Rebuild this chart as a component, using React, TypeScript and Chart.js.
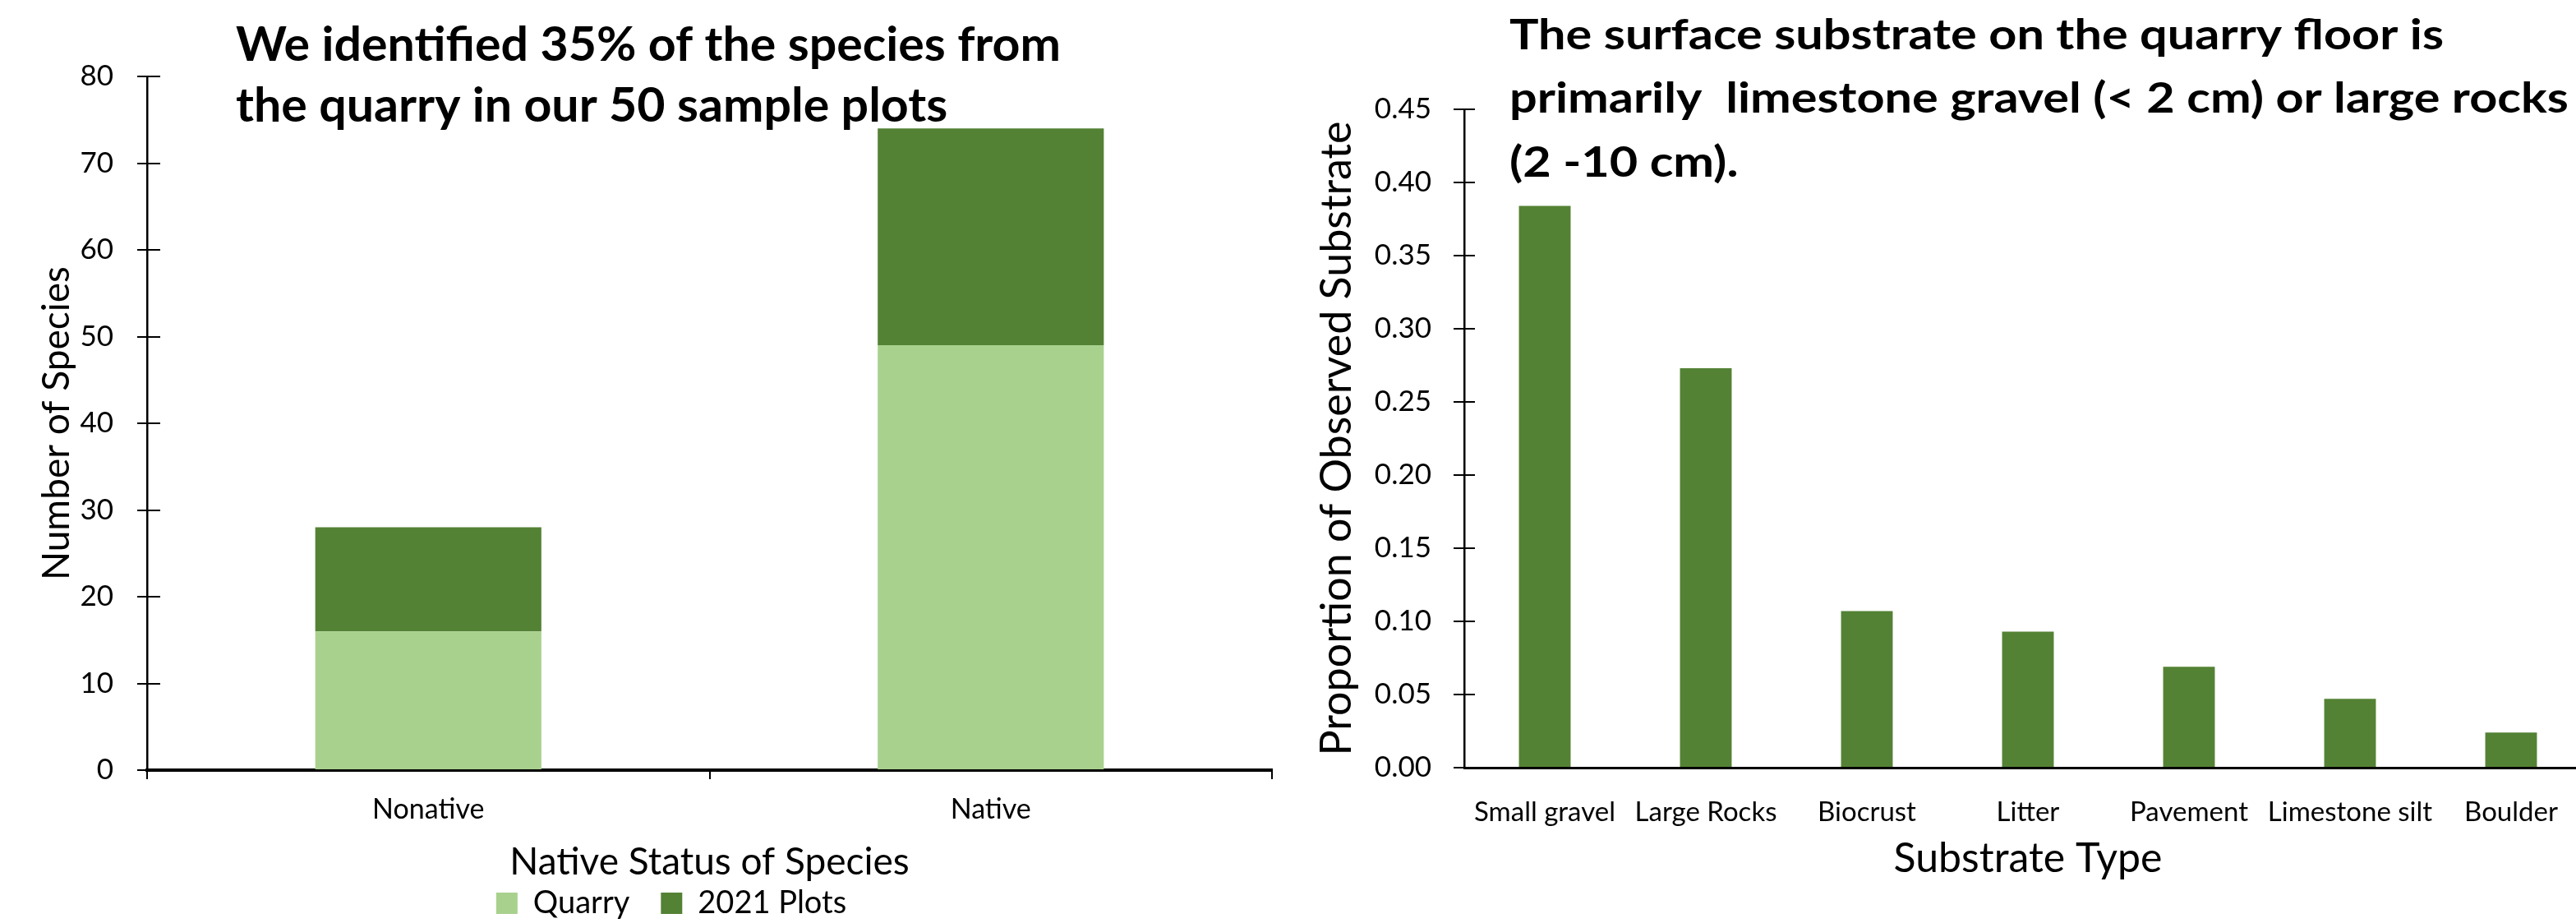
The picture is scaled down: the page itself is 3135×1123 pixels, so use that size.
import React, { useEffect, useRef } from "react";
import { Chart, registerables } from "chart.js";

Chart.register(...registerables);

// ---------- data ----------
const statusCategories = ["Nonative", "Native"];
const quarrySpecies = [16, 49];
const plots2021Species = [12, 25];
const speciesTicks = [0, 10, 20, 30, 40, 50, 60, 70, 80];

const substrateTypes = ["Small gravel", "Large Rocks", "Biocrust", "Litter", "Pavement", "Limestone silt", "Boulder"];
const substrateProportions = [0.384, 0.273, 0.107, 0.093, 0.069, 0.047, 0.024];
const proportionTicks = [0, 0.05, 0.1, 0.15, 0.2, 0.25, 0.3, 0.35, 0.4, 0.45];

const leftTitleLines = ["We identified 35% of the species from", "the quarry in our 50 sample plots"];
const rightTitleLines = [
  "The surface substrate on the quarry floor is",
  "primarily  limestone gravel (< 2 cm) or large rocks",
  "(2 -10 cm).",
];

const LIGHT_GREEN = "#A9D18E";
const DARK_GREEN = "#548235";
const FONT = "Lato";

// ---------- plugins ----------
const overlayTitlePlugin = {
  id: "overlayTitle",
  afterDraw(chart: any, _args: any, opts: any) {
    if (!opts || !opts.lines) return;
    const ctx = chart.ctx;
    ctx.save();
    ctx.font = `bold ${opts.size}px ${FONT}`;
    ctx.fillStyle = "#000";
    ctx.textAlign = "left";
    ctx.textBaseline = "alphabetic";
    const w0 = ctx.measureText(opts.lines[0]).width;
    const sx = opts.firstLineWidth / w0;
    ctx.translate(opts.x, 0);
    ctx.scale(sx, 1);
    opts.lines.forEach((line: string, i: number) => ctx.fillText(line, 0, opts.baselines[i]));
    ctx.restore();
  },
};

const innerTicksPlugin = {
  id: "innerTicks",
  afterDraw(chart: any, _args: any, opts: any) {
    const y = chart.scales.y;
    if (!y || !opts) return;
    const ctx = chart.ctx;
    ctx.save();
    ctx.strokeStyle = "#000";
    ctx.lineWidth = 2;
    y.ticks.forEach((t: any) => {
      const py = Math.round(y.getPixelForValue(t.value));
      ctx.beginPath();
      ctx.moveTo(y.right, py);
      ctx.lineTo(y.right + opts.length, py);
      ctx.stroke();
    });
    ctx.restore();
  },
};

function useChart(ref: React.RefObject<HTMLCanvasElement>, makeConfig: () => any) {
  useEffect(() => {
    if (!ref.current) return;
    const chart = new Chart(ref.current, makeConfig());
    let alive = true;
    if ((document as any).fonts && (document as any).fonts.ready) {
      (document as any).fonts.ready.then(() => {
        if (alive) chart.update();
      });
    }
    return () => {
      alive = false;
      chart.destroy();
    };
  }, []);
}

function leftConfig() {
  return {
    type: "bar",
    data: {
      labels: statusCategories,
      datasets: [
        { label: "Quarry", data: quarrySpecies, backgroundColor: LIGHT_GREEN, borderWidth: 0 },
        { label: "2021 Plots", data: plots2021Species, backgroundColor: DARK_GREEN, borderWidth: 0 },
      ],
    },
    plugins: [overlayTitlePlugin, innerTicksPlugin],
    options: {
      responsive: false,
      animation: false,
      events: [],
      layout: { padding: { left: 86, right: 52, top: 93, bottom: 0 } },
      datasets: { bar: { barPercentage: 1, categoryPercentage: 0.402 } },
      scales: {
        x: {
          stacked: true,
          afterFit: (s: any) => { s.height = 105; },
          grid: { offset: true, drawOnChartArea: false, drawTicks: true, tickLength: 11, color: "#000", lineWidth: 2 },
          border: { display: true, color: "#000", width: 4 },
          ticks: { color: "#000", font: { family: FONT, size: 34 }, padding: 17, maxRotation: 0 },
          title: {
            display: true,
            text: "Native Status of Species",
            color: "#000",
            font: { family: FONT, size: 46 },
            padding: { top: 0, bottom: -35 },
          },
        },
        y: {
          stacked: true,
          min: 0,
          max: 80,
          afterBuildTicks: (s: any) => { s.ticks = speciesTicks.map((v) => ({ value: v })); },
          afterFit: (s: any) => { s.width = 93; },
          grid: { drawOnChartArea: false, drawTicks: true, tickLength: 12, color: "#000", lineWidth: 2 },
          border: { display: true, color: "#000", width: 2.5 },
          ticks: { color: "#000", font: { family: FONT, size: 35 }, padding: 29 },
          title: {
            display: true,
            text: "Number of Species",
            color: "#000",
            font: { family: FONT, size: 46 },
            padding: { top: -44, bottom: 0 },
          },
        },
      },
      plugins: {
        tooltip: { enabled: false },
        legend: {
          display: true,
          position: "bottom",
          labels: {
            boxWidth: 26,
            boxHeight: 26,
            padding: 38,
            color: "#000",
            font: { family: FONT, size: 38 },
          },
        },
        overlayTitle: { lines: leftTitleLines, x: 287, baselines: [74, 148], size: 58, firstLineWidth: 1004 },
        innerTicks: { length: 16 },
      },
    },
  };
}

function rightConfig() {
  return {
    type: "bar",
    data: {
      labels: substrateTypes,
      datasets: [
        { label: "Proportion", data: substrateProportions, backgroundColor: DARK_GREEN, borderWidth: 0 },
      ],
    },
    plugins: [overlayTitlePlugin, innerTicksPlugin],
    options: {
      responsive: false,
      animation: false,
      events: [],
      layout: { padding: { left: 0, right: 26, top: 133, bottom: 0 } },
      datasets: { bar: { barPercentage: 1, categoryPercentage: 0.321 } },
      scales: {
        x: {
          afterFit: (s: any) => { s.height = 189; },
          grid: { display: false },
          border: { display: true, color: "#000", width: 3 },
          ticks: { color: "#000", font: { family: FONT, size: 33 }, padding: 27, maxRotation: 0, autoSkip: false },
          title: {
            display: true,
            text: "Substrate Type",
            color: "#000",
            font: { family: FONT, size: 50 },
            padding: { top: 0, bottom: 48 },
          },
        },
        y: {
          min: 0,
          max: 0.45,
          afterBuildTicks: (s: any) => { s.ticks = proportionTicks.map((v) => ({ value: v })); },
          afterFit: (s: any) => { s.width = 222; },
          grid: { drawOnChartArea: false, drawTicks: true, tickLength: 13, color: "#000", lineWidth: 2 },
          border: { display: true, color: "#000", width: 2.5 },
          ticks: {
            color: "#000",
            font: { family: FONT, size: 35 },
            padding: 27,
            callback: (v: any) => Number(v).toFixed(2),
          },
          title: {
            display: true,
            text: "Proportion of Observed Substrate",
            color: "#000",
            font: { family: FONT, size: 52 },
            padding: { top: 36, bottom: 0 },
          },
        },
      },
      plugins: {
        tooltip: { enabled: false },
        legend: { display: false },
        overlayTitle: { lines: rightTitleLines, x: 277, baselines: [60, 137, 215], size: 51, firstLineWidth: 1137 },
        innerTicks: { length: 13 },
      },
    },
  };
}

export default function App() {
  const leftRef = useRef<HTMLCanvasElement>(null);
  const rightRef = useRef<HTMLCanvasElement>(null);

  useEffect(() => {
    document.body.style.margin = "0";
    document.body.style.background = "#fff";
  }, []);

  useChart(leftRef, leftConfig);
  useChart(rightRef, rightConfig);

  return (
    <div style={{ position: "relative", width: 3135, height: 1123, overflow: "hidden", background: "#fff" }}>
      <canvas
        ref={leftRef}
        width={1600}
        height={1128}
        style={{ position: "absolute", left: 0, top: 0, width: 1600, height: 1128 }}
      />
      <canvas
        ref={rightRef}
        width={1620}
        height={1123}
        style={{ position: "absolute", left: 1560, top: 0, width: 1620, height: 1123 }}
      />
    </div>
  );
}
